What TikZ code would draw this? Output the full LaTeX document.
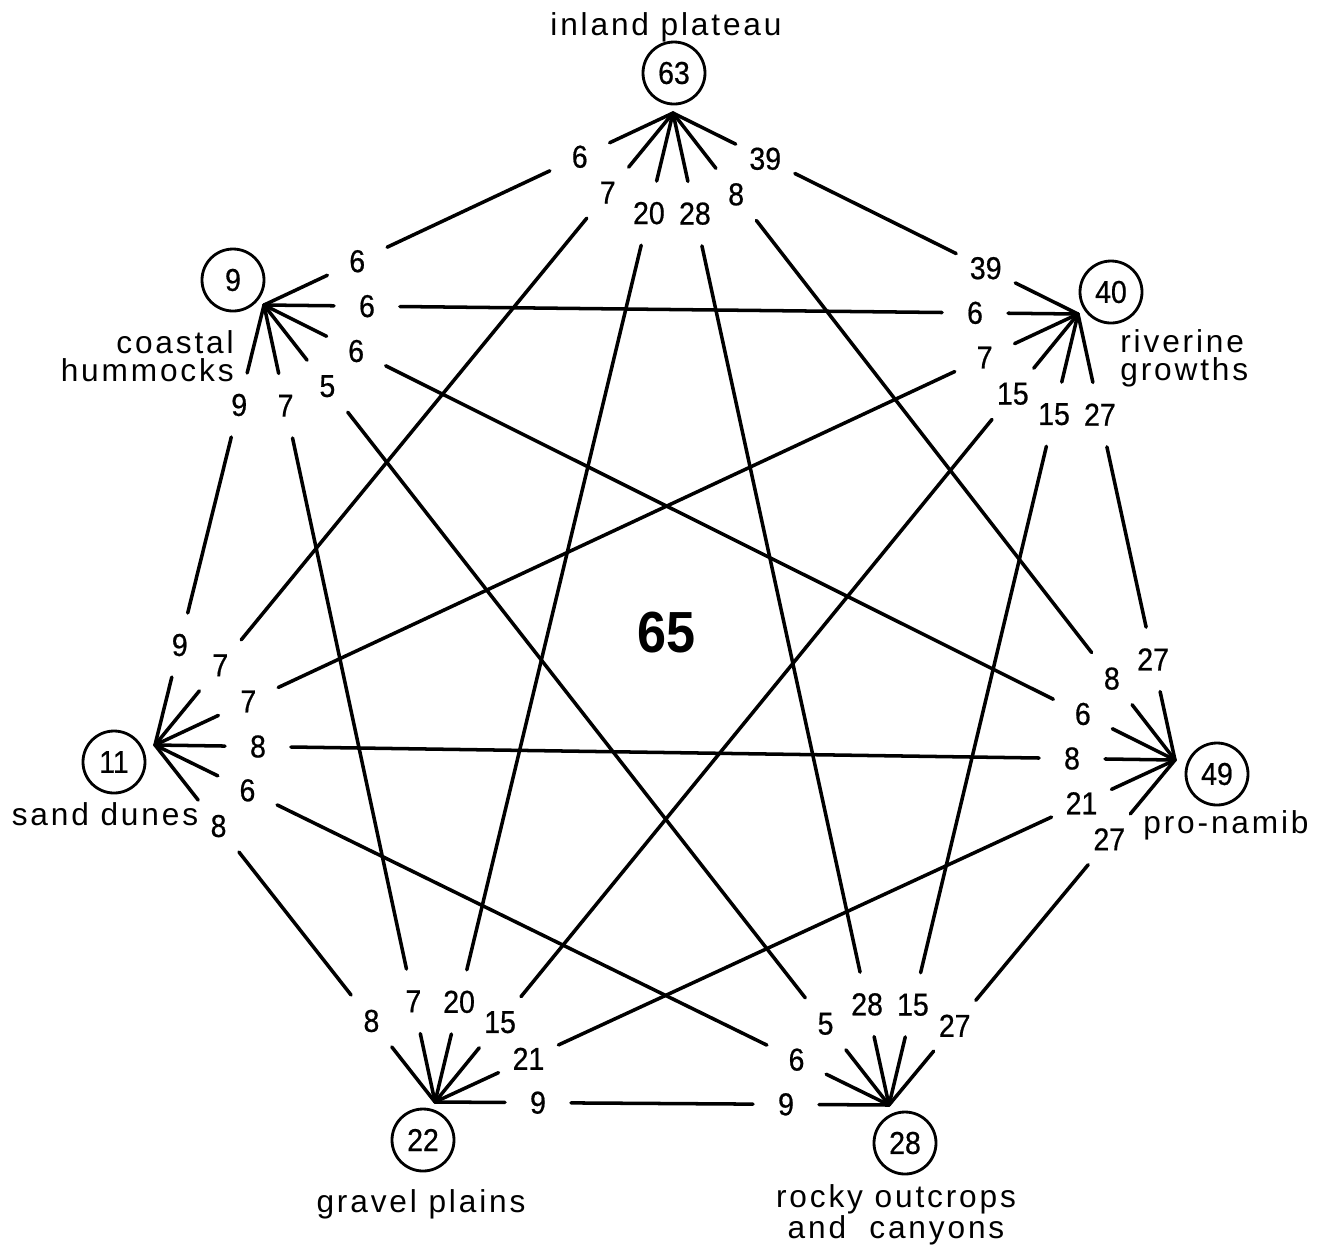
\documentclass[tikz,border=0pt]{standalone}
\usepackage{fontspec}
\setmainfont{Liberation Sans}
\usetikzlibrary{calc}

\begin{document}
\begin{tikzpicture}[x=0.2mm,y=-0.2mm,
  link/.style={line width=2pt,line cap=round},
  count/.style={draw,circle,line width=1.6pt,minimum size=12.4mm,inner sep=0pt,
    font=\fontsize{18}{18}\selectfont\addfontfeature{FakeBold=0.6,FakeStretch=0.9}},
  num/.style={font=\fontsize{18}{18}\selectfont\addfontfeature{FakeBold=0.6,FakeStretch=0.9},
    inner sep=0pt},
  place/.style={font=\fontsize{18}{16}\selectfont\addfontfeature{LetterSpace=9},
    inner sep=0pt},
  total/.style={font=\fontsize{33}{36}\selectfont\bfseries\addfontfeature{FakeStretch=0.9},
    inner sep=0pt}
]
\useasboundingbox (0,0) rectangle (1329,1245);
% meeting points of the habitats
\coordinate (plateau)  at (673,113);
\coordinate (hummocks) at (264,305);
\coordinate (riverine) at (1078,314);
\coordinate (dunes)    at (155,745);
\coordinate (pronamib) at (1175,760);
\coordinate (gravel)   at (435,1102);
\coordinate (rocky)    at (889,1105);
% species counts
\node[count] (c63) at (674,73)   {63};
\node[count] (c9)  at (233,280)  {9};
\node[count] (c40) at (1111,292) {40};
\node[count] (c11) at (114,762)  {11};
\node[count] (c49) at (1217,774) {49};
\node[count] (c22) at (423,1140) {22};
\node[count] (c28) at (905,1143) {28};
% habitat names
\node[place,anchor=base] (lplateau) at (666,35) {inland plateau};
\node[place,anchor=east,align=right] (lhummocks) at (234,356) {coastal\\hummocks};
\node[place,anchor=west,align=left] (lriverine) at (1120,358) {riverine\\growths};
\node[place,anchor=base] (ldunes) at (105,825) {sand dunes};
\node[place,anchor=base] (lpronamib) at (1226,833) {pro-namib};
\node[place,anchor=base] (lgravel) at (421,1212) {gravel plains};
\node[place,anchor=north,align=center,font=\fontsize{18}{15}\selectfont\addfontfeature{LetterSpace=9}]
  (lrocky) at (896,1184) {rocky outcrops\\and\ \ canyons};
\node[total] (all) at (667,633) {65};
% shared species
\foreach \a/\b/\n in {plateau/hummocks/6, plateau/riverine/39, plateau/dunes/7,
    plateau/gravel/20, plateau/rocky/28, plateau/pronamib/8,
    hummocks/riverine/6, hummocks/pronamib/6, hummocks/rocky/5,
    hummocks/gravel/7, hummocks/dunes/9,
    riverine/dunes/7, riverine/gravel/15, riverine/rocky/15, riverine/pronamib/27,
    dunes/pronamib/8, dunes/rocky/6, dunes/gravel/8,
    pronamib/gravel/21, pronamib/rocky/27, gravel/rocky/9}{
  \draw[link] (\a) -- ($(\a)!14mm!(\b)$)
    ($(\a)!27.2mm!(\b)$) -- ($(\b)!27.2mm!(\a)$)
    ($(\b)!14mm!(\a)$) -- (\b);
  \node[num] (n-\a-\b) at ($(\a)!20.6mm!(\b)$) {\n};
  \node[num] (n-\b-\a) at ($(\b)!20.6mm!(\a)$) {\n};
}
\end{tikzpicture}
\end{document}
